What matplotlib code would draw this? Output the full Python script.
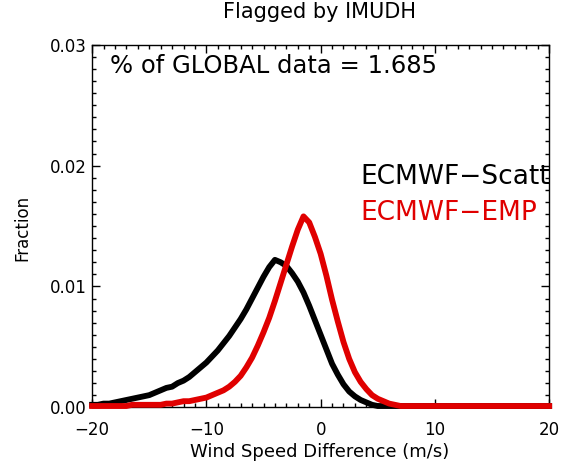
import matplotlib
matplotlib.use("Agg")
import matplotlib.pyplot as plt
from matplotlib.ticker import MultipleLocator

x_values = [-20.0, -19.5, -19.0, -18.5, -18.0, -17.5, -17.0, -16.5, -16.0, -15.5,
            -15.0, -14.5, -14.0, -13.5, -13.0, -12.5, -12.0, -11.5, -11.0, -10.5,
            -10.0, -9.5, -9.0, -8.5, -8.0, -7.5, -7.0, -6.5, -6.0, -5.5,
            -5.0, -4.5, -4.0, -3.5, -3.0, -2.5, -2.0, -1.5, -1.0, -0.5,
            0.0, 0.5, 1.0, 1.5, 2.0, 2.5, 3.0, 3.5, 4.0, 4.5,
            5.0, 5.5, 6.0, 6.5, 7.0, 7.5, 8.0, 8.5, 9.0, 9.5,
            10.0, 10.5, 11.0, 11.5, 12.0, 12.5, 13.0, 13.5, 14.0, 14.5,
            15.0, 15.5, 16.0, 16.5, 17.0, 17.5, 18.0, 18.5, 19.0, 19.5, 20.0]

scatt_values = [0.0002, 0.0002, 0.0003, 0.0003, 0.0004, 0.0005, 0.0006, 0.0007, 0.0008, 0.0009,
                0.0010, 0.0012, 0.0014, 0.0016, 0.0017, 0.0020, 0.0022, 0.0025, 0.0029, 0.0033,
                0.0037, 0.0042, 0.0047, 0.0053, 0.0059, 0.0066, 0.0073, 0.0081, 0.0090, 0.0099,
                0.0108, 0.0116, 0.0122, 0.0120, 0.0117, 0.0111, 0.0104, 0.0095, 0.0084, 0.0072,
                0.0060, 0.0048, 0.0036, 0.0027, 0.0019, 0.0013, 0.0009, 0.0006, 0.0004, 0.0002,
                0.0001, 0.0001, 0.0001, 0.0001, 0.0001, 0.0001, 0.0001, 0.0001, 0.0001, 0.0001,
                0.0001, 0.0001, 0.0001, 0.0001, 0.0001, 0.0001, 0.0001, 0.0001, 0.0001, 0.0001,
                0.0001, 0.0001, 0.0001, 0.0001, 0.0001, 0.0001, 0.0001, 0.0001, 0.0001, 0.0001, 0.0001]

emp_values = [0.0001, 0.0001, 0.0001, 0.0001, 0.0001, 0.0001, 0.0001, 0.0002, 0.0002, 0.0002,
              0.0002, 0.0002, 0.0002, 0.0003, 0.0003, 0.0004, 0.0005, 0.0005, 0.0006, 0.0007,
              0.0008, 0.0010, 0.0012, 0.0014, 0.0017, 0.0021, 0.0026, 0.0033, 0.0041, 0.0051,
              0.0062, 0.0074, 0.0088, 0.0103, 0.0118, 0.0133, 0.0147, 0.0158, 0.0153, 0.0141,
              0.0127, 0.0109, 0.0089, 0.0071, 0.0054, 0.0040, 0.0029, 0.0021, 0.0015, 0.0010,
              0.0007, 0.0005, 0.0003, 0.0002, 0.0001, 0.0001, 0.0001, 0.0001, 0.0001, 0.0001,
              0.0001, 0.0001, 0.0001, 0.0001, 0.0001, 0.0001, 0.0001, 0.0001, 0.0001, 0.0001,
              0.0001, 0.0001, 0.0001, 0.0001, 0.0001, 0.0001, 0.0001, 0.0001, 0.0001, 0.0001, 0.0001]

series_labels = ["ECMWF\u2212Scatt", "ECMWF\u2212EMP"]
series_colors = ["black", "#e00000"]
title_text = "Flagged by IMUDH"
note_text = "% of GLOBAL data = 1.685"
x_label = "Wind Speed Difference (m/s)"
y_label = "Fraction"
x_ticks = [-20, -10, 0, 10, 20]
y_ticks = [0.00, 0.01, 0.02, 0.03]

plt.rcParams['font.family'] = ['DejaVu Sans']

fig = plt.figure(figsize=(5.65, 4.67), dpi=100)
ax = fig.add_axes([0.163, 0.128, 0.809, 0.776])

ax.plot(x_values, scatt_values, color=series_colors[0], lw=4.2, clip_on=False, zorder=3)
ax.plot(x_values, emp_values, color=series_colors[1], lw=4.2, clip_on=False, zorder=4)

ax.set_xlim(-20, 20)
ax.set_ylim(0, 0.03)
ax.set_xticks(x_ticks)
ax.set_xticklabels([str(t).replace('-', '\u2212') for t in x_ticks])
ax.set_yticks(y_ticks)
ax.set_yticklabels([f"{t:.2f}" for t in y_ticks])
ax.xaxis.set_minor_locator(MultipleLocator(1))
ax.yaxis.set_minor_locator(MultipleLocator(0.001))
ax.tick_params(which='both', direction='in', top=True, right=True, labelsize=12, width=1)
ax.tick_params(which='major', length=6)
ax.tick_params(which='minor', length=3)
ax.tick_params(axis='x', which='major', pad=10)
ax.tick_params(axis='y', which='major', pad=4)
for s in ax.spines.values():
    s.set_linewidth(1.0)

fig.text(0.566, 0.974, title_text, fontsize=15, ha='center', va='center')
fig.text(0.566, 0.032, x_label, fontsize=13, ha='center', va='center')
fig.text(0.039, 0.512, y_label, fontsize=12, ha='center', va='center', rotation=90)

ax.text(0.04, 0.942, note_text, transform=ax.transAxes, fontsize=17.5, va='center', ha='left')
ax.text(0.586, 0.635, series_labels[0], transform=ax.transAxes, fontsize=19,
        color=series_colors[0], va='center', ha='left')
ax.text(0.586, 0.536, series_labels[1], transform=ax.transAxes, fontsize=19,
        color=series_colors[1], va='center', ha='left')

fig.savefig("out.png", dpi=100)
